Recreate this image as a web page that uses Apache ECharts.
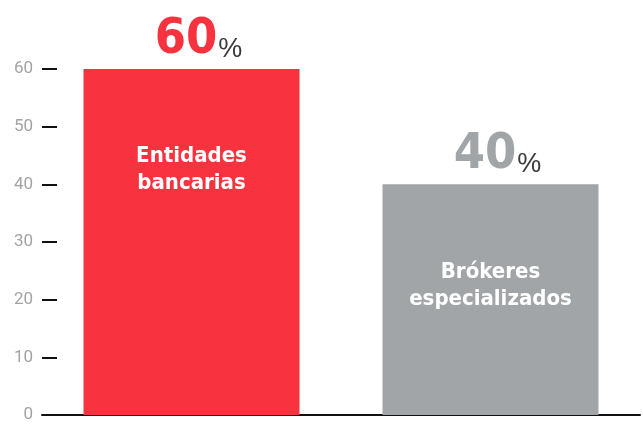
<!DOCTYPE html>
<html>
<head>
<meta charset="utf-8">
<script src="https://cdn.jsdelivr.net/npm/echarts@6/dist/echarts.min.js"></script>
<style>
  html, body { margin: 0; padding: 0; background: #fff; }
  #chart { width: 643px; height: 427px; }
</style>
</head>
<body>
<div id="chart"></div>
<script>
// reparto por canal
var categories = ['Entidades\nbancarias', 'Brókeres\nespecializados']
var values = [60, 40]
var barColors = ['#f8323f', '#a2a5a8']
var yTicks = [0, 10, 20, 30, 40, 50, 60]

var myChart = echarts.init(document.getElementById('chart'))

var option = {
  animation: false,
  grid: {
    left: 42,
    right: 3,
    top: 69,
    bottom: 12
  },
  xAxis: {
    type: 'category',
    data: categories,
    axisLine: {
      show: true,
      lineStyle: { color: '#111', width: 2 }
    },
    axisTick: { show: false },
    axisLabel: { show: false }
  },
  yAxis: {
    type: 'value',
    min: yTicks[0],
    max: yTicks[yTicks.length - 1],
    interval: 10,
    axisLine: { show: false },
    axisTick: {
      show: true,
      inside: true,
      length: 15,
      lineStyle: { color: '#111', width: 2 }
    },
    axisLabel: {
      margin: 9,
      color: '#a3a3a3',
      fontSize: 17,
      fontFamily: 'Roboto'
    },
    splitLine: { show: false }
  },
  series: [
    {
      // barras + nombre dentro
      type: 'bar',
      barWidth: 216,
      data: values.map(function (v, i) {
        return { value: v, itemStyle: { color: barColors[i] } }
      }),
      label: {
        show: true,
        position: 'insideTop',
        distance: 74,
        formatter: function (p) { return categories[p.dataIndex] },
        color: '#fff',
        fontSize: 22,
        fontWeight: 'bold',
        lineHeight: 27,
        fontFamily: '"Liberation Sans Narrow", "DejaVu Sans Condensed", sans-serif'
      }
    },
    {
      // porcentaje encima
      type: 'bar',
      barWidth: 216,
      barGap: '-100%',
      silent: true,
      itemStyle: { color: 'transparent' },
      data: values.map(function (v, i) {
        return {
          value: v,
          label: {
            rich: {
              n: {
                fontSize: 50,
                fontWeight: 'bold',
                color: barColors[i],
                fontFamily: '"DejaVu Sans Condensed", "Liberation Sans Narrow", sans-serif',
                verticalAlign: 'bottom'
              },
              p: {
                fontSize: 27,
                color: '#3a3a3a',
                fontFamily: '"Liberation Sans", sans-serif',
                verticalAlign: 'bottom',
                padding: [0, 0, 2, 1]
              }
            }
          }
        }
      }),
      label: {
        show: true,
        position: 'top',
        distance: 4,
        offset: [7, 0],
        formatter: function (p) { return '{n|' + p.value + '}{p|%}' }
      }
    }
  ]
}

option && myChart.setOption(option)
</script>
</body>
</html>
